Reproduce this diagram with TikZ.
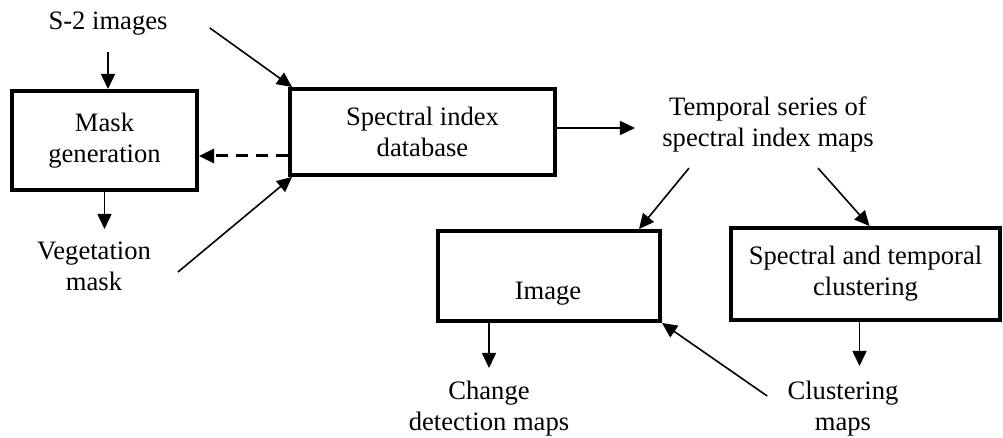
\documentclass[tikz,border=0pt]{standalone}
\usepackage{fontspec}
\setmainfont{Liberation Serif}
\usepackage{tikz}
\usetikzlibrary{calc,positioning,arrows.meta}

\begin{document}
\begin{tikzpicture}[
  x=0.5pt, y=-0.5pt,
  box/.style={draw, line width=2pt, minimum width=#1, align=center,
    font=\fontsize{13.3}{15.5}\selectfont, inner sep=0pt},
  lbl/.style={align=center, font=\fontsize{13.3}{15.5}\selectfont, inner sep=1pt},
  arr/.style={-{Triangle[length=7.5pt, width=7pt]}, line width=0.8pt},
]
  \useasboundingbox (0,0) rectangle (1003,438);

  % boxes
  \node[box=92.5pt, minimum height=49.5pt] (mask) at (104.5,140.5) {Mask\\generation};
  \node[box=132.5pt, minimum height=43pt] (db) at (422.5,132) {Spectral index\\database};
  \node[box=111pt, minimum height=45pt] (img) at (549,276) {};
  \node[lbl] (imgtxt) at (548,294) {Image};
  \node[box=134.5pt, minimum height=46pt] (clu) at (865.5,274) {Spectral and temporal\\clustering};

  % texts
  \node[lbl] (s2) at (108,24) {S-2 images};
  \node[lbl] (veg) at (94,266) {Vegetation\\mask};
  \node[lbl] (tmp) at (768,124) {Temporal series of\\spectral index maps};
  \node[lbl] (chg) at (489,409) {Change\\detection maps};
  \node[lbl] (clm) at (843,409) {Clustering\\maps};
  \coordinate (ext) at (178,272);

  % arrows
  \draw[arr] ($(s2.south)+(0,14)$) -- (s2.south |- mask.north);
  \draw[arr] ($(s2.east)+(40,4)$) -- ($(db.north west)+(4,0)$);
  \draw[arr] (ext) -- ($(db.south west)+(4,0)$);
  \draw[arr, dashed, dash pattern=on 6pt off 4pt, line width=1.5pt]
    ($(db.west)+(0,24)$) -- ($(mask.east)+(0,15.5)$);
  \draw[arr] (mask.south) -- ($(mask.south)+(0,37)$);
  \draw[arr] (db.east |- 0,128) -- ($(tmp.west |- 0,128)+(-25,0)$);
  \draw[arr] ($(tmp.south)+(-79,14)$) -- ($(img.north east)+(-23,0)$);
  \draw[arr] ($(tmp.south)+(50,14)$) -- ($(clu.north)+(4,0)$);
  \draw[arr] (chg.north |- img.south) -- ($(chg.north |- img.south)+(0,45)$);
  \draw[arr] ($(clu.south)+(-6,0)$) -- ($(clu.south)+(-6,44)$);
  \draw[arr] ($(clm.west)+(-18,-13)$) -- (img.south east);
\end{tikzpicture}
\end{document}
